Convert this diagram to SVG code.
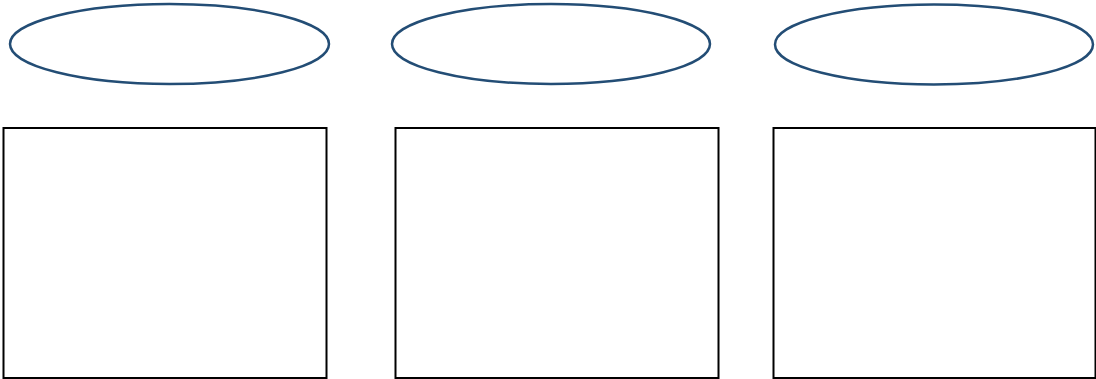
<svg xmlns="http://www.w3.org/2000/svg" width="1096" height="379" viewBox="0 0 1096 379">
<style>
.ell{fill:#ffffff;stroke:#234d75;stroke-width:2.5}
.box{fill:#ffffff;stroke:#000000;stroke-width:2}
</style>
<rect width="1096" height="379" fill="#ffffff"/>
<g id="ellipse1"><ellipse class="ell" cx="169.5" cy="44" rx="159.5" ry="40"/></g>
<g id="ellipse2"><ellipse class="ell" cx="551" cy="44" rx="159" ry="40"/></g>
<g id="ellipse3"><ellipse class="ell" cx="934" cy="44.5" rx="159" ry="40"/></g>
<g id="box1"><rect class="box" x="3.5" y="128" width="323" height="250"/></g>
<g id="box2"><rect class="box" x="395.5" y="128" width="323" height="250"/></g>
<g id="box3"><rect class="box" x="773.5" y="128" width="322" height="250"/></g>
<g id="connectors"></g>
</svg>
